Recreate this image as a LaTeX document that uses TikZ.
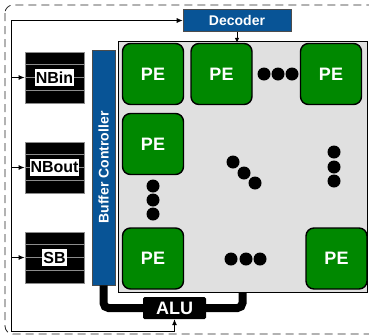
\documentclass[tikz,border=0pt]{standalone}
\usepackage{fontspec}
\setmainfont{Liberation Sans}
\usetikzlibrary{arrows.meta,calc}
\definecolor{peg}{RGB}{0,136,0}
\definecolor{bcblue}{RGB}{8,84,150}
\definecolor{arr}{RGB}{224,224,224}
\definecolor{stk}{RGB}{140,140,140}
\begin{document}
\begin{tikzpicture}[x=1pt,y=-1pt,
 pe/.style={draw=black, line width=1.4pt, fill=peg, rounded corners=8pt, minimum width=61pt, minimum height=61pt, text=white, font=\bfseries\fontsize{18}{18}\selectfont, inner sep=0pt},
 dot/.style={circle, fill=black, minimum size=13pt, inner sep=0pt},
 stack/.style={fill=black, draw=stk, line width=0.8pt, minimum width=59pt, minimum height=51pt, inner sep=0pt},
 stlabel/.style={fill=white, inner xsep=1pt, inner ysep=2.5pt, font=\bfseries\fontsize{16}{16}\selectfont},
 bluebox/.style={fill=bcblue, draw=black!70, line width=0.6pt, text=white, font=\bfseries\fontsize{14}{14}\selectfont, inner sep=0pt},
 conn/.style={line width=0.8pt, -{Latex[length=6pt,width=5pt]}},
 wire/.style={line width=8pt, rounded corners=5pt},
]
\useasboundingbox (0,0) rectangle (369,335);
% outer dashed frame
\draw[dash pattern=on 8pt off 5pt, rounded corners=8pt, line width=0.8pt, black!85] (5,5) rectangle (390,334);
% array region
\node[fill=arr, draw=black, line width=0.8pt, minimum width=249pt, minimum height=251pt, inner sep=0pt] (array) at (242.5,166.5) {};
% decoder
\node[bluebox, minimum width=108pt, minimum height=22pt] (decoder) at (237,20.5) {Decoder};
% buffer controller
\node[bluebox, minimum width=23pt, minimum height=235pt] (bc) at (103.5,167.5) {};
\node[rotate=90, text=white, font=\bfseries\fontsize{14}{14}\selectfont, inner sep=0pt] (bctext) at (bc.center) {Buffer Controller};
% ALU
\node[fill=black, rounded corners=1.5pt, minimum width=63pt, minimum height=22pt, text=white, font=\bfseries\fontsize{18}{18}\selectfont, inner sep=0pt] (alu) at (174.5,308) {ALU};
% thick wires
\draw[wire] (bc.south) |- (alu.west);
\draw[wire] (alu.east) -| (array.south);
% PEs
\node[pe] (pe11) at (153,74) {PE};
\node[pe] (pe12) at (221.5,74) {PE};
\node[pe] (pe1n) at (331,74) {PE};
\node[pe] (pe21) at (153,144) {PE};
\node[pe] (pen1) at (153,258.5) {PE};
\node[pe] (penn) at (336.5,258.5) {PE};
% dots
\foreach \i/\x/\y in {a/264/74, b/278/74, c/292/74,
  d/153/186, e/153/200, f/153/214,
  g/233/162, h/244/173, k/255/183,
  l/334/152, m/334/167, n/334/181,
  o/231/259, p/246/259, q/260/259}
  \node[dot] (dot\i) at (\x,\y) {};
% stacks
\node[stack] (nbin) at (54.5,77.5) {};
\node[stack] (nbout) at (54.5,167.5) {};
\node[stack] (sb) at (54.5,257.5) {};
\foreach \s in {nbin,nbout,sb}
  \foreach \f in {0.25,0.5,0.75}
    \draw[stk, line width=0.8pt] ($(\s.north west)!\f!(\s.south west)$) -- ($(\s.north east)!\f!(\s.south east)$);
\node[stlabel] (nbinl) at (nbin) {NBin};
\node[stlabel] (nboutl) at (nbout) {NBout};
\node[stlabel] (sbl) at (sb) {SB};
% control lines
\coordinate (tl) at (11,20.5);
\coordinate (bl) at (11,331);
\draw[conn] (bl) -- (tl) -- (decoder.west);
\draw[conn] (bl) -| (alu.south);
\foreach \s in {nbin,nbout,sb}
  \draw[conn] (\s.west -| tl) -- (\s.west);
\draw[line width=0.8pt, -{Latex[length=5pt,width=4.5pt]}] (decoder.south) -- (decoder.south |- pe12.north);
\end{tikzpicture}
\end{document}
